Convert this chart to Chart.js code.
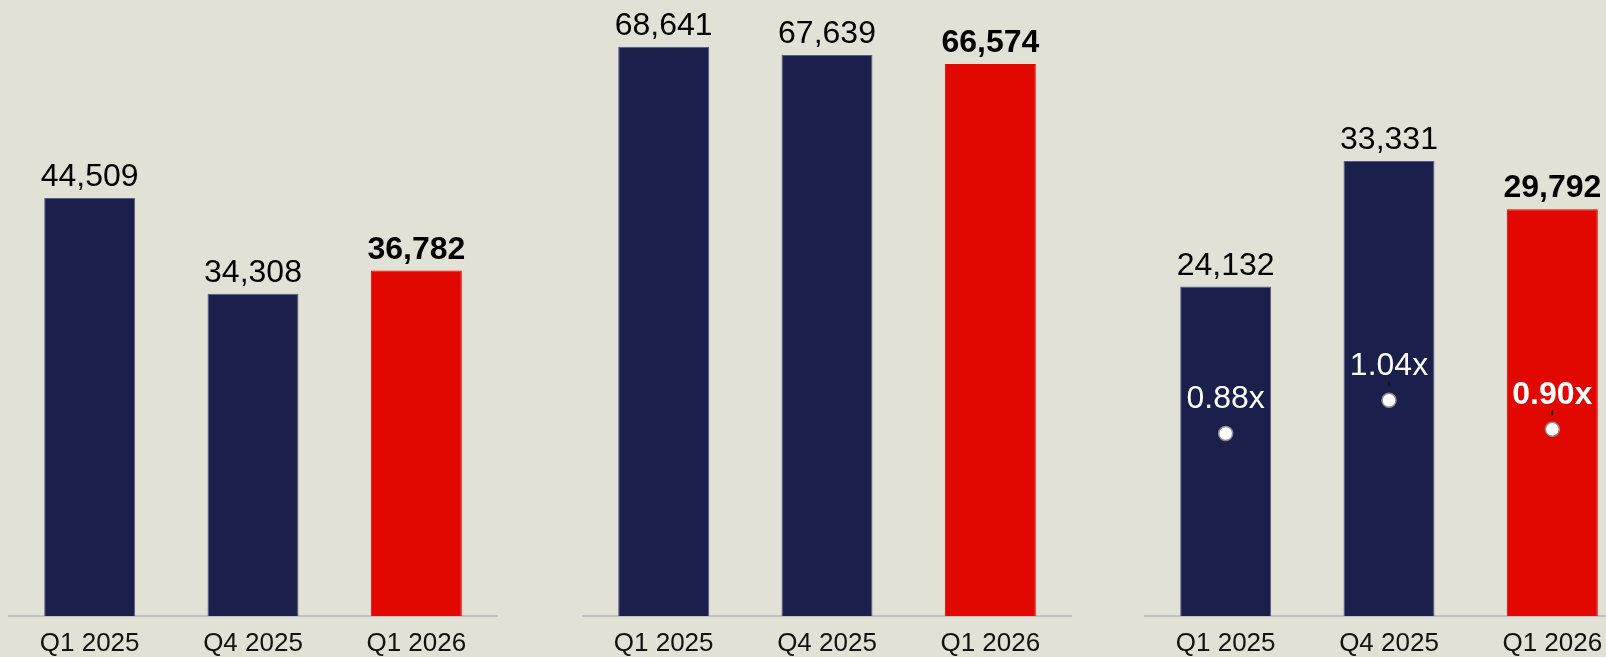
<!DOCTYPE html>
<html>
<head>
<meta charset="utf-8">
<script src="https://cdn.jsdelivr.net/npm/chart.js@4"></script>
<style>
  html, body { margin: 0; padding: 0; overflow: hidden; background: #E1E1D6; width: 1606px; height: 657px; }
  .panel { position: absolute; top: 0; height: 657px; overflow: hidden; }
  .panel canvas { position: absolute; left: 0; top: 0; }
</style>
</head>
<body>
<div class="panel" style="left:8px;width:490px"><canvas id="left" width="490" height="672" style="width:490px;height:672px"></canvas></div>
<div class="panel" style="left:582px;width:490px"><canvas id="middle" width="490" height="672" style="width:490px;height:672px"></canvas></div>
<div class="panel" style="left:1144px;width:462px"><canvas id="right" width="490" height="672" style="width:490px;height:672px"></canvas></div>
<script>
//! ------------------------ data ------------------------
const categories = ["Q1 2025", "Q4 2025", "Q1 2026"];
const leftValues = [44509, 34308, 36782];
const middleValues = [68641, 67639, 66574];
const rightValues = [24132, 33331, 29792];
const rightMultiples = [0.88, 1.04, 0.9];
const showLeader = [false, true, true];

const navy = "#1B1F4B";
const red = "#E00800";
const barColors = [navy, navy, red];
const barBorders = ["#565C86", "#565C86", red];
const fontFamily = '"Liberation Sans", Arial, sans-serif';

Chart.defaults.font.family = fontFamily;
Chart.defaults.color = "#111";

//! ------------------------ label plugin ------------------------
const valueLabels = {
  id: "valueLabels",
  afterDatasetsDraw(chart) {
    const ctx = chart.ctx;
    const bars = chart.getDatasetMeta(0).data;
    const values = chart.data.datasets[0].data;
    ctx.save();
    ctx.textAlign = "center";
    ctx.textBaseline = "alphabetic";
    ctx.fillStyle = "#000";
    bars.forEach((bar, i) => {
      const last = i === values.length - 1;
      ctx.font = `${last ? "bold " : ""}32px ${fontFamily}`;
      ctx.fillText(values[i].toLocaleString("en-US"), bar.x, bar.y - 12);
    });

    // multiples on the right chart
    if (chart.data.datasets.length > 1) {
      const points = chart.getDatasetMeta(1).data;
      const mults = chart.data.datasets[1].data;
      points.forEach((p, i) => {
        const last = i === mults.length - 1;
        if (showLeader[i]) {
          ctx.strokeStyle = "#111";
          ctx.lineWidth = 1.5;
          ctx.beginPath();
          ctx.moveTo(p.x, p.y - 19);
          ctx.lineTo(p.x, p.y - 14);
          ctx.stroke();
        }
        ctx.fillStyle = "#fff";
        ctx.font = `${last ? "bold " : ""}32px ${fontFamily}`;
        ctx.fillText(mults[i].toFixed(2) + "x", p.x, p.y - 25);
      });
    }
    ctx.restore();
  },
};

//! ------------------------ chart builder ------------------------
const makeChart = (id, values, yMax, multiples) => {
  const datasets = [
    {
      type: "bar",
      data: values,
      backgroundColor: barColors,
      borderColor: barBorders,
      borderWidth: 1,
      barPercentage: 0.557,
      categoryPercentage: 1,
      order: 1,
    },
  ];
  const scales = {
    x: {
      grid: { display: false, drawTicks: false },
      border: { color: "#C0C0C0", width: 2 },
      ticks: {
        font: { size: 26, lineHeight: 1 },
        padding: 15,
        color: "#111",
        maxRotation: 0,
        autoSkip: false,
      },
    },
    y: { display: false, min: 0, max: yMax },
  };
  if (multiples) {
    datasets.push({
      type: "line",
      data: multiples,
      yAxisID: "y1",
      showLine: false,
      pointRadius: 7,
      pointBackgroundColor: "#fff",
      pointBorderColor: "#8C8C8C",
      pointBorderWidth: 1.5,
      order: 0,
    });
    scales.y1 = { display: false, min: 0, max: 2.97 };
  }
  new Chart(document.getElementById(id), {
    type: "bar",
    data: { labels: categories, datasets },
    options: {
      responsive: false,
      animation: false,
      layout: { padding: 0, autoPadding: false },
      plugins: { legend: { display: false }, tooltip: { enabled: false } },
      scales,
    },
    plugins: [valueLabels],
  });
};

makeChart("left", leftValues, 65600);
makeChart("middle", middleValues, 74280);
makeChart("right", rightValues, 45120, rightMultiples);
</script>
</body>
</html>
